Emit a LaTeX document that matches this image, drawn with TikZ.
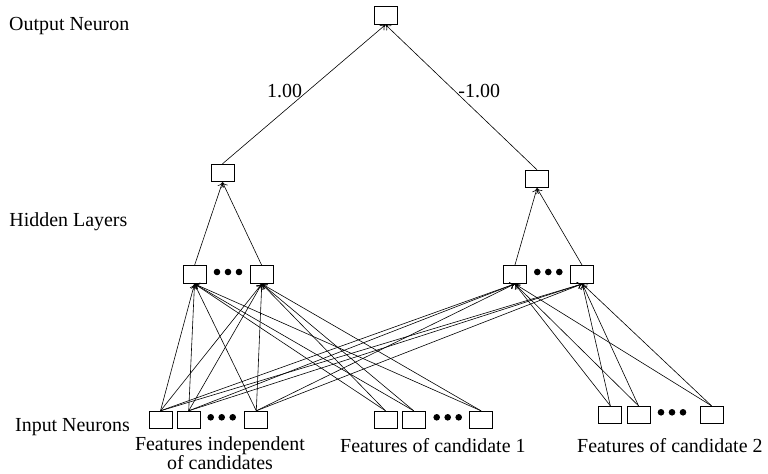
\documentclass[tikz,border=0pt]{standalone}
\usepackage{fontspec}
\setmainfont{Liberation Serif}
\usetikzlibrary{arrows.meta}
\tikzset{
  neuron/.style={draw, minimum width=23bp, minimum height=17.5bp, inner sep=0pt, line width=0.9bp},
  syn/.style={->, line width=0.6bp},
  lbl/.style={font=\fontsize{20}{16.6}\selectfont, inner sep=0pt},
}
\begin{document}
\begin{tikzpicture}[x=1bp,y=-1bp,>={To[length=5bp,width=7bp]}]
\useasboundingbox (0,0) rectangle (768,474);

% layer names
\node[lbl,anchor=base west] (tout) at (9,30.7) {Output Neuron};
\node[lbl,anchor=base west] (thid) at (9.3,226.7) {Hidden Layers};
\node[lbl,anchor=base west] (tin) at (15,431.7) {Input Neurons};

% neurons
\node[neuron] (out) at (385.5,15.5) {};
\node[neuron] (u1) at (222.5,173) {};
\node[neuron] (u2) at (537,179) {};
\foreach \n/\x in {h1a/194.5,h1b/261.8,h2a/514.8,h2b/582.3}
  \node[neuron] (\n) at (\x,274.7) {};
\foreach \n/\x in {a1/160.5,a2/188.7,a3/256.3,b1/385.5,b2/413.7,b3/481}
  \node[neuron] (\n) at (\x,420) {};
\foreach \n/\x in {c1/610.3,c2/638.5,c3/711.5}
  \node[neuron] (\n) at (\x,415) {};

% dots
\foreach \x/\y in {217/272,537.3/272,210.7/417.3,436.7/417.3,661/412.3}
  \foreach \k in {0,1,2}
    \fill (\x+11*\k,\y) circle (3.3bp);

% input groups
\node[lbl,align=center,anchor=base] (fa) at (220,469.3) {Features independent\\of candidates};
\node[lbl,anchor=base west] (fb) at (340,452.7) {Features of candidate 1};
\node[lbl,anchor=base west] (fc) at (577,452.7) {Features of candidate 2};

% connections
\foreach \i in {a1,a2,a3,b1,b2,b3}
  \foreach \h in {h1a,h1b}
    \draw[syn] (\i.north) -- (\h.south);
\foreach \i in {a1,a2,a3,c1,c2,c3}
  \foreach \h in {h2a,h2b}
    \draw[syn] (\i.north) -- (\h.south);
\foreach \h in {h1a,h1b}
  \draw[syn] (\h.north) -- (u1.south);
\foreach \h in {h2a,h2b}
  \draw[syn] (\h.north) -- (u2.south);
\draw[syn] (u1.north) -- node[lbl,pos=0.52,anchor=east,xshift=-5bp] (w1) {1.00} (out.south);
\draw[syn] (u2.north) -- node[lbl,pos=0.54,anchor=west,xshift=3bp] (w2) {-1.00} (out.south);
\end{tikzpicture}
\end{document}
